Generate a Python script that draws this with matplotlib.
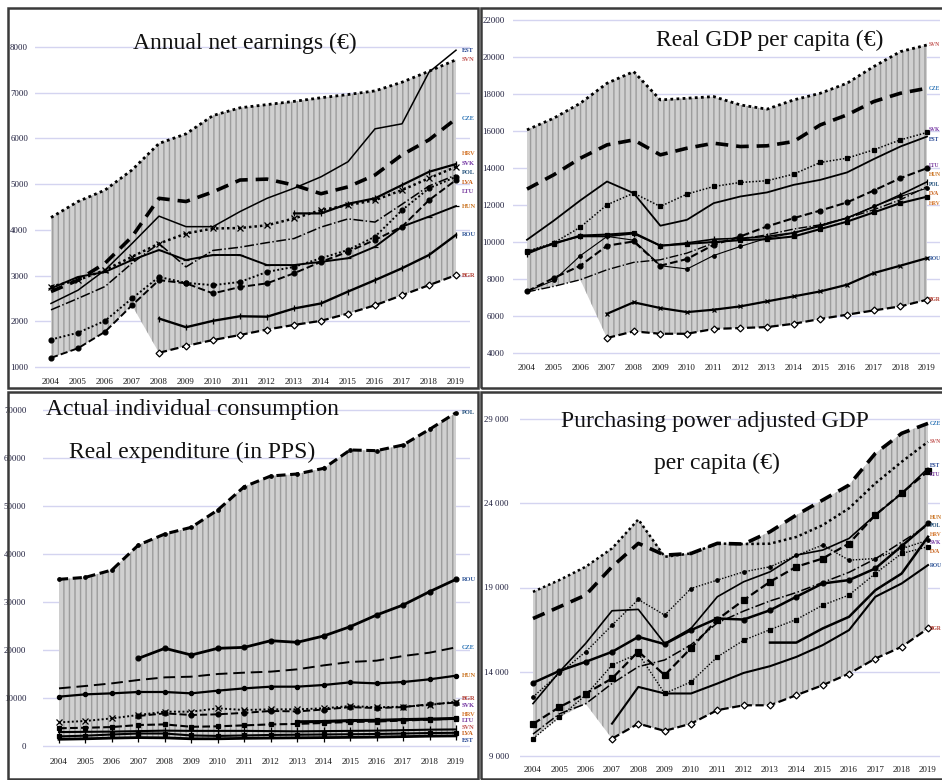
import numpy as np
import matplotlib
matplotlib.use("Agg")
import matplotlib.pyplot as plt
from matplotlib.patches import Rectangle

nan = np.nan
years = list(range(2004, 2020))
countries = ["EST", "SVN", "CZE", "HRV", "SVK", "POL", "LVA", "LTU", "HUN", "ROU", "BGR"]

# ---------------- Panel 1: Annual net earnings (EUR) ----------------
earn_ticks = [1000, 2000, 3000, 4000, 5000, 6000, 7000, 8000]
earn_EST = [2390, 2680, 3120, 3700, 4300, 4070, 4070, 4400, 4690, 4910, 5160, 5490, 6210, 6320, 7450, 7930]
earn_SVN = [4270, 4620, 4870, 5310, 5890, 6100, 6500, 6670, 6740, 6810, 6890, 6960, 7040, 7230, 7470, 7720]
earn_CZE = [2650, 2900, 3270, 3850, 4690, 4620, 4830, 5090, 5110, 4980, 4790, 4940, 5200, 5640, 5970, 6430]
earn_HRV = [nan, nan, nan, nan, nan, nan, nan, nan, nan, 4360, 4360, 4570, 4690, 4980, 5270, 5440]
earn_SVK = [2760, 2900, 3120, 3410, 3700, 3920, 4030, 4040, 4100, 4250, 4430, 4540, 4650, 4870, 5130, 5380]
earn_POL = [2250, 2500, 2760, 3270, 3700, 3190, 3550, 3620, 3720, 3810, 4060, 4240, 4170, 4560, 4960, 5200]
earn_LVA = [1600, 1750, 2010, 2500, 2970, 2840, 2790, 2860, 3080, 3190, 3380, 3560, 3850, 4430, 4910, 5160]
earn_LTU = [1200, 1410, 1770, 2350, 2900, 2830, 2610, 2750, 2830, 3050, 3300, 3520, 3780, 4070, 4650, 5090]
earn_HUN = [2720, 2970, 3080, 3340, 3560, 3340, 3450, 3450, 3230, 3230, 3300, 3380, 3630, 4070, 4290, 4520]
earn_ROU = [nan, nan, nan, nan, 2060, 1870, 2010, 2110, 2100, 2280, 2390, 2650, 2900, 3160, 3450, 3890]
earn_BGR = [nan, nan, nan, nan, 1310, 1460, 1590, 1700, 1820, 1920, 2010, 2170, 2350, 2570, 2790, 3010]

# ---------------- Panel 2: Real GDP per capita (EUR) ----------------
gdp_ticks = [4000, 6000, 8000, 10000, 12000, 14000, 16000, 18000, 20000, 22000]
gdp_EST = [10120, 11150, 12250, 13270, 12640, 10880, 11200, 12100, 12460, 12680, 13090, 13360, 13760, 14480, 15160, 15700]
gdp_SVN = [16060, 16690, 17500, 18580, 19210, 17680, 17770, 17860, 17410, 17180, 17680, 18040, 18580, 19480, 20290, 20650]
gdp_CZE = [12860, 13630, 14530, 15250, 15520, 14710, 15070, 15340, 15160, 15200, 15430, 16330, 16870, 17590, 18040, 18310]
gdp_HRV = [9450, 9900, 10350, 10400, 10500, 9800, 9900, 10000, 10100, 10150, 10300, 10700, 11100, 11600, 12100, 12450]
gdp_SVK = [9500, 9950, 10800, 12010, 12640, 11920, 12590, 13000, 13220, 13310, 13670, 14300, 14530, 14980, 15520, 15920]
gdp_POL = [7300, 7600, 7960, 8500, 8900, 9040, 9400, 9940, 10150, 10390, 10700, 10930, 11290, 11740, 12280, 13000]
gdp_LVA = [7330, 7920, 9260, 10300, 10100, 8720, 8540, 9270, 9760, 10210, 10480, 10840, 11290, 11920, 12460, 12910]
gdp_LTU = [7330, 8050, 8720, 9800, 10030, 8720, 9080, 9850, 10300, 10840, 11290, 11700, 12140, 12780, 13450, 13990]
gdp_HUN = [9350, 9950, 10300, 10300, 10450, 9800, 9950, 10150, 10200, 10300, 10500, 10900, 11300, 11900, 12550, 13250]
gdp_ROU = [nan, nan, nan, 6120, 6740, 6430, 6210, 6340, 6520, 6790, 7060, 7330, 7690, 8320, 8720, 9130]
gdp_BGR = [nan, nan, nan, 4810, 5170, 5040, 5040, 5300, 5350, 5400, 5580, 5840, 6070, 6300, 6520, 6880]

# ---------------- Panel 3: Actual individual consumption (PPS) ----------------
aic_ticks = [0, 10000, 20000, 30000, 40000, 50000, 60000, 70000]
aic_EST = [1400, 1500, 1650, 1750, 1700, 1500, 1500, 1600, 1650, 1700, 1750, 1800, 1850, 1950, 2050, 2100]
aic_SVN = [2900, 2950, 3000, 3100, 3200, 3150, 3150, 3150, 3100, 3050, 3100, 3150, 3200, 3300, 3400, 3450]
aic_CZE = [12010, 12500, 13050, 13750, 14300, 14440, 15000, 15280, 15490, 15970, 16800, 17500, 17780, 18750, 19440, 20550]
aic_HRV = [nan, nan, nan, nan, nan, nan, nan, nan, nan, 5050, 5100, 5300, 5350, 5500, 5600, 5750]
aic_SVK = [nan, nan, nan, 6250, 6800, 6460, 6600, 6900, 7300, 7200, 7600, 8100, 7900, 8100, 8700, 9030]
aic_POL = [34720, 35140, 36670, 41870, 44170, 45560, 49170, 54030, 56250, 56670, 57850, 61670, 61530, 62710, 65970, 69440]
aic_LVA = [2000, 2150, 2400, 2600, 2600, 2200, 2100, 2200, 2300, 2350, 2400, 2450, 2500, 2600, 2700, 2750]
aic_LTU = [3700, 3800, 3950, 4370, 4500, 4000, 4100, 4300, 4500, 4600, 4800, 5000, 5100, 5300, 5500, 5700]
aic_HUN = [10280, 10760, 10970, 11250, 11250, 10970, 11530, 12010, 12360, 12360, 12710, 13260, 13050, 13330, 13890, 14650]
aic_ROU = [nan, nan, nan, 18260, 20350, 18960, 20350, 20550, 21940, 21600, 22920, 24860, 27290, 29370, 32150, 34720]
aic_BGR = [4930, 5210, 5760, 6460, 7150, 7150, 7850, 7500, 7640, 7640, 7850, 8330, 8060, 8190, 8540, 9240]

# ---------------- Panel 4: Purchasing power adjusted GDP per capita ----------------
ppp_ticks = [9000, 14000, 19000, 24000, 29000]
ppp_ticklabels = ["9 000", "14 000", "19 000", "24 000", "29 000"]
ppp_EST = [12110, 13990, 15680, 17620, 17700, 15680, 16570, 18450, 19340, 19930, 20920, 21220, 21910, 23300, 24580, 26070]
ppp_SVN = [18740, 19440, 20230, 21320, 23040, 20820, 21020, 21610, 21580, 21600, 22000, 22700, 23700, 25180, 26460, 27650]
ppp_CZE = [17160, 17850, 18550, 20230, 21620, 20920, 21020, 21620, 21580, 22310, 23300, 24190, 25080, 26960, 28150, 28740]
ppp_HRV = [nan, nan, nan, nan, nan, nan, nan, nan, nan, 15730, 15730, 16570, 17260, 18840, 19830, 22010]
ppp_SVK = [12500, 13900, 15180, 16760, 18290, 17360, 18940, 19440, 19930, 20230, 20900, 21520, 20620, 20720, 21300, 21810]
ppp_POL = [10300, 11500, 12100, 13300, 14300, 14700, 15600, 16900, 17600, 18200, 18700, 19300, 19900, 20700, 21700, 22700]
ppp_LVA = [10030, 11300, 12610, 14390, 15080, 12710, 13400, 14880, 15870, 16500, 17100, 17950, 18550, 19830, 21020, 21420]
ppp_LTU = [10900, 11900, 12700, 13600, 15200, 13800, 15400, 17100, 18250, 19340, 20230, 20720, 21610, 23300, 24600, 25900]
ppp_HUN = [13340, 14050, 14590, 15180, 16070, 15640, 16470, 17160, 17100, 17650, 18450, 19240, 19440, 20130, 21460, 22800]
ppp_ROU = [nan, nan, nan, 10920, 13100, 12710, 12710, 13300, 13930, 14330, 14880, 15580, 16470, 18450, 19240, 20330]
ppp_BGR = [nan, nan, nan, 10030, 10920, 10490, 10920, 11720, 12010, 12010, 12610, 13200, 13890, 14780, 15480, 16570]

# ---------------- Styles ----------------
W, H = 942, 780
SERIF = ["Liberation Serif", "DejaVu Serif"]
plt.rcParams["font.family"] = SERIF
plt.rcParams["hatch.linewidth"] = 1.0

label_colors = {"EST": "#1d3f8f", "SVN": "#c0504d", "CZE": "#2e75b6", "HRV": "#d4762c",
                "SVK": "#7030a0", "POL": "#1f4e79", "LVA": "#c55a11", "LTU": "#7b3fa0",
                "HUN": "#c9711d", "ROU": "#2f5597", "BGR": "#b03a2e"}

def st(ls, lw, mk=None, ms=3.0, mfc="black"):
    return dict(ls=ls, lw=lw, marker=mk, ms=ms, mfc=mfc)

DOT = (0, (1, 1.2))
THICKDASH = (0, (3.5, 2.2))
style_earn = {"EST": st("-", 1.1), "SVN": st(DOT, 2.0), "CZE": st(THICKDASH, 2.6),
              "HRV": st("-", 1.6, "|", 5), "SVK": st(DOT, 1.8, "x", 4), "POL": st("-.", 1.1),
              "LVA": st(DOT, 1.4, "o", 3.5), "LTU": st("--", 1.4, "o", 3.5),
              "HUN": st("-", 1.4, "_", 5), "ROU": st("-", 1.7, "|", 5),
              "BGR": st("--", 1.6, "D", 3.5, "white")}
style_gdp = {"EST": st("-", 1.3), "SVN": st(DOT, 2.0), "CZE": st(THICKDASH, 2.6),
             "HRV": st("-", 1.5, "s", 3), "SVK": st(DOT, 1.1, "s", 2.5), "POL": st("-.", 1.0),
             "LVA": st("-", 0.8, "o", 2.5), "LTU": st("--", 1.5, "o", 3.5),
             "HUN": st("-", 1.2, "|", 4), "ROU": st("-", 1.6, "x", 3.5),
             "BGR": st("--", 1.6, "D", 3.5, "white")}
style_aic = {"EST": st("-", 2.0, "|", 6), "SVN": st("-", 1.5, "|", 6), "CZE": st((0, (6, 3)), 1.4),
             "HRV": st("-", 2.2, "s", 3), "SVK": st("--", 1.4, "o", 3.5), "POL": st((0, (3, 1.5)), 2.2, "o", 2.5),
             "LVA": st("-", 1.5, "s", 3), "LTU": st("--", 1.5, "s", 2.5),
             "HUN": st("-", 1.6, "o", 3), "ROU": st("-", 2.0, "o", 3.5),
             "BGR": st(DOT, 1.4, "x", 4)}
style_ppp = {"EST": st("-", 1.2), "SVN": st(DOT, 1.8), "CZE": st(THICKDASH, 2.6),
             "HRV": st("-", 1.8), "SVK": st(DOT, 1.0, "o", 2.5), "POL": st("-.", 1.1),
             "LVA": st(DOT, 1.0, "s", 3), "LTU": st("--", 1.6, "s", 4),
             "HUN": st("-", 1.8, "o", 3.5), "ROU": st("-", 1.5),
             "BGR": st("--", 1.6, "D", 3.5, "white")}

fig = plt.figure(figsize=(W / 100, H / 100), dpi=100)

# panel frames
for (l, t, r, b) in [(8, 8, 478, 388), (481, 8, 946, 388), (8, 392, 478, 779), (481, 392, 946, 779)]:
    fig.add_artist(Rectangle((l / W, 1 - b / H), (r - l) / W, (b - t) / H, transform=fig.transFigure,
                             fill=False, edgecolor="#3a3a3a", lw=1.8))


def panel(data, styles, ticks, ticklabels, box, xref, yref, upper, title_lines, title_pos, title_size,
          label_gap, ypad, xpad, label_dx, label_fs):
    left, top, right, bottom = box
    ax = fig.add_axes([left / W, 1 - bottom / H, (right - left) / W, (bottom - top) / H])
    x0p, x1p = xref
    sx = (x1p - x0p) / 15.0
    ax.set_xlim(2004 - (x0p - left) / sx, 2019 + (right - x1p) / sx)
    (yv0, yp0), (yv1, yp1) = yref
    sy = (yp1 - yp0) / (yv0 - yv1)
    ax.set_ylim(yv1 - (bottom - yp1) / sy, yv0 + (yp0 - top) / sy)

    arr = np.array([data[c] for c in countries], dtype=float)
    lower = np.nanmin(arr, axis=0)
    up = np.nanmax(arr, axis=0) if upper is None else np.array(data[upper], dtype=float)
    ax.fill_between(years, lower, up, facecolor="#d0d0d0", edgecolor="#9c9c9c", hatch="|||",
                    linewidth=0, zorder=1)

    for c in countries:
        s = styles[c]
        ax.plot(years, data[c], color="black", linestyle=s["ls"], lw=s["lw"], marker=s["marker"],
                ms=s["ms"], mfc=s["mfc"], mec="black", mew=0.9, zorder=3)

    # end labels, spread apart in pixel space
    ends = [(c, data[c][-1]) for c in countries]
    ends.sort(key=lambda e: -e[1])
    pix = [ax.transData.transform((2019, v))[1] for _, v in ends]
    for _ in range(300):
        moved = False
        for i in range(len(pix) - 1):
            d = pix[i] - pix[i + 1]
            if d < label_gap - 1e-6:
                delta = (label_gap - d) / 2
                pix[i] += delta
                pix[i + 1] -= delta
                moved = True
        if not moved:
            break
    inv = ax.transData.inverted()
    xlab = 2019 + label_dx / sx
    for (c, v), p in zip(ends, pix):
        yv = inv.transform((0, p))[1]
        ax.text(xlab, yv, c, fontsize=label_fs, color=label_colors[c], va="center", ha="left",
                fontweight="bold", clip_on=False, zorder=5)

    ax.set_yticks(ticks)
    ax.set_yticklabels(ticklabels, fontsize=6.3, color="#1b1b3a")
    ax.set_xticks(years)
    ax.set_xticklabels([str(y) for y in years], fontsize=6.5, color="#1a1a1a")
    ax.tick_params(length=0)
    ax.tick_params(axis="y", pad=ypad)
    ax.tick_params(axis="x", pad=xpad)
    ax.yaxis.grid(True, color="#d4d4f0", lw=1.0)
    ax.set_axisbelow(True)
    for sp in ax.spines.values():
        sp.set_visible(False)
    ax.patch.set_alpha(0)

    for line, (tx, ty) in zip(title_lines, title_pos):
        fig.text(tx / W, 1 - ty / H, line, fontsize=title_size, ha="center", va="center",
                 color="#111111", zorder=10)
    return ax


earn = {c: globals()["earn_" + c] for c in countries}
gdp = {c: globals()["gdp_" + c] for c in countries}
aic = {c: globals()["aic_" + c] for c in countries}
ppp = {c: globals()["ppp_" + c] for c in countries}

panel(earn, style_earn, earn_ticks, [str(t) for t in earn_ticks], (35, 30, 470, 372), (51, 456),
      ((8000, 47), (1000, 367)), "SVN", ["Annual net earnings (\u20ac)"], [(245, 43)], 17,
      9.5, 5, 4, 6, 4.6)
panel(gdp, style_gdp, gdp_ticks, [str(t) for t in gdp_ticks], (513, 14, 940, 358), (527, 927),
      ((22000, 20), (4000, 353)), None, ["Real GDP per capita (\u20ac)"], [(770, 40)], 17,
      9.5, 6, 4, 2, 4.0)
panel(aic, style_aic, aic_ticks, [str(t) for t in aic_ticks], (43, 400, 470, 752), (59, 456),
      ((70000, 410), (0, 746)), None,
      ["Actual individual consumption", "Real expenditure (in PPS)"], [(192, 410), (192, 452)], 17,
      6.5, 12, 4, 6, 4.6)
panel(ppp, style_ppp, ppp_ticks, ppp_ticklabels, (520, 405, 940, 760), (533, 928),
      ((29000, 419), (9000, 756)), None,
      ["Purchasing power adjusted GDP", "per capita (\u20ac)"], [(715, 422), (717, 463)], 17,
      8.5, 8, 4, 2, 4.0)

fig.savefig("out.png", dpi=100)
